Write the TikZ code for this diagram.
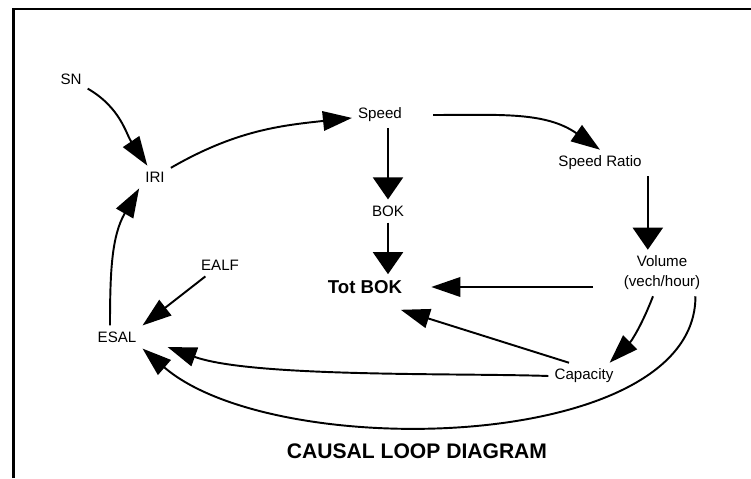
\documentclass[tikz,border=0pt]{standalone}
\usepackage{fontspec}
\setmainfont{Liberation Sans}
\usepackage{tikz}
\usetikzlibrary{arrows.meta}
\tikzset{
  var/.style={align=center,font=\fontsize{8.6}{11.4}\selectfont},
  varbig/.style={font=\fontsize{10.6}{12}\selectfont\bfseries},
  titletext/.style={font=\fontsize{12}{14}\selectfont\bfseries},
  arr/.style={-{Triangle[length=5.8mm,width=3.9mm]},line width=1.1pt},
  bigarr/.style={-{Triangle[length=4.4mm,width=6mm]},line width=1.1pt}
}
\begin{document}
\begin{tikzpicture}
\useasboundingbox (0,0) rectangle (15.02,9.56);
\draw[line width=1.4pt] (0.27,0) |- (15.02,9.38);
\node[var] (sn) at (1.42,7.98) {SN};
\node[var] (iri) at (3.10,6.02) {IRI};
\node[var] (speed) at (7.60,7.26) {Speed};
\node[var] (spratio) at (12.00,6.30) {Speed Ratio};
\node[var] (bok) at (7.76,5.34) {BOK};
\node[varbig] (totbok) at (7.30,3.82) {Tot BOK};
\node[var] (vol) at (13.24,4.10) {Volume\\(vech/hour)};
\node[var] (cap) at (11.68,2.04) {Capacity};
\node[var] (ealf) at (4.40,4.26) {EALF};
\node[var] (esal) at (2.34,2.82) {ESAL};
\node[titletext] (title) at (8.34,0.54) {CAUSAL LOOP DIAGRAM};
\draw[arr] (sn) to[out=-30,in=124] (iri);
\draw[arr] (iri) to[out=30,in=186] (speed);
\draw[arr] ([xshift=5mm]speed.east) to[out=0,in=145] (spratio.north);
\draw[bigarr] (bok |- speed.south) -- (bok);
\draw[bigarr] (bok) -- (bok |- totbok.north);
\draw[bigarr] (spratio.south east) -- (spratio.south east |- vol.north);
\draw[arr,shorten <=4.9mm,shorten >=4.6mm] (vol.west |- totbok.east) -- (totbok.east);
\draw[arr] ([xshift=-1.8mm]vol.south) to[bend left=12] ([xshift=-2mm]cap.north east);
\draw[arr] ([xshift=-3mm]cap.north) -- ([shift={(-1.5mm,-2mm)}]totbok.south east);
\draw[arr] (cap.west) to[out=178,in=-20,looseness=0.6] ([xshift=5mm,yshift=-2mm]esal.east);
\draw[arr] ([xshift=-2.2mm]vol.south east) .. controls (13.92,0.5) and (5.5,0.3) .. (esal.south east);
\draw[arr] (ealf) -- (esal.north east);
\draw[arr] ([xshift=-1.4mm]esal.north) to[out=90,in=-120] (iri.south west);
\end{tikzpicture}
\end{document}
